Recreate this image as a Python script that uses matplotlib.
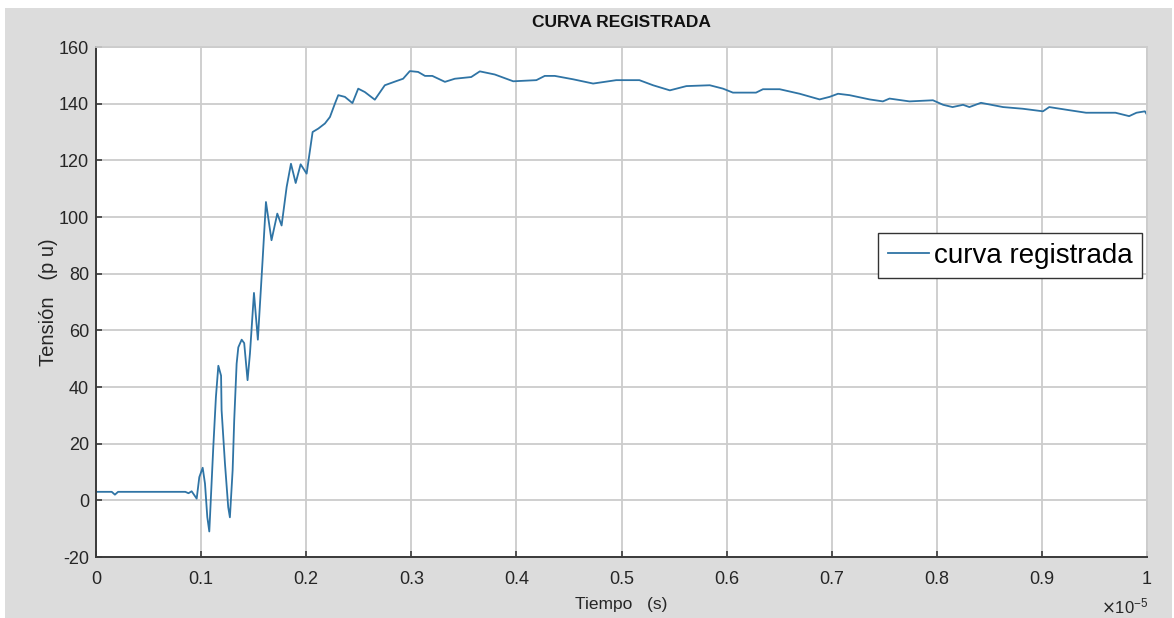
import matplotlib
matplotlib.use("Agg")
import matplotlib.pyplot as plt
from matplotlib.patches import Rectangle

plt.rcParams['font.family'] = ['Liberation Sans', 'DejaVu Sans']
plt.rcParams['axes.unicode_minus'] = False

# Time (x 1e-5 s) and voltage (p.u.)
t = [0.0, 0.015, 0.018, 0.021, 0.085, 0.088, 0.091, 0.0958, 0.0983, 0.1015,
     0.1037, 0.1059, 0.1078, 0.1116, 0.1141, 0.1164, 0.119, 0.1195, 0.1227,
     0.1258, 0.1274, 0.13, 0.1315, 0.1338, 0.1354, 0.1386, 0.141, 0.1442,
     0.1465, 0.1503, 0.154, 0.1585, 0.1617, 0.167, 0.1725, 0.1766, 0.1814,
     0.1855, 0.19, 0.1947, 0.2004, 0.2061, 0.2115, 0.2178, 0.2226, 0.2273,
     0.2305, 0.2368, 0.244, 0.2495, 0.2558, 0.2653, 0.2748, 0.286, 0.2922,
     0.2986, 0.3065, 0.313, 0.320, 0.332, 0.3414, 0.357, 0.3652, 0.3794,
     0.397, 0.419, 0.427, 0.4365, 0.454, 0.473, 0.495, 0.517, 0.53, 0.546,
     0.5617, 0.584, 0.5966, 0.606, 0.628, 0.6346, 0.6505, 0.6695, 0.6885,
     0.698, 0.706, 0.717, 0.736, 0.7487, 0.755, 0.774, 0.7963, 0.806, 0.815,
     0.825, 0.831, 0.842, 0.863, 0.882, 0.901, 0.907, 0.926, 0.942, 0.97,
     0.983, 0.99, 0.998, 1.0]
v = [3.0, 3.0, 2.0, 3.0, 3.0, 2.5, 3.2, 0.6, 8.2, 11.5,
     5.9, -5.9, -11.0, 18.8, 36.5, 47.5, 44.0, 31.8, 13.0,
     -2.4, -6.0, 10.6, 28.2, 48.2, 54.0, 56.7, 55.5, 42.4,
     51.9, 73.2, 56.7, 84.7, 105.3, 91.8, 101.2, 97.0, 110.6,
     118.8, 112.0, 118.6, 115.3, 130.0, 131.2, 133.0, 135.3, 140.0,
     143.0, 142.4, 140.2, 145.3, 144.1, 141.4, 146.5, 148.0, 148.8,
     151.5, 151.2, 149.8, 149.8, 147.7, 148.8, 149.4, 151.4, 150.3,
     147.9, 148.3, 149.8, 149.8, 148.6, 147.1, 148.3, 148.3, 146.5, 144.7,
     146.2, 146.5, 145.3, 143.9, 143.9, 145.1, 145.1, 143.5, 141.5,
     142.4, 143.5, 143.0, 141.5, 140.8, 141.8, 140.8, 141.2, 139.6, 138.8,
     139.6, 138.8, 140.3, 138.8, 138.2, 137.3, 138.8, 137.7, 136.8, 136.8,
     135.6, 136.8, 137.3, 136.1]

xticks = [0, 0.1, 0.2, 0.3, 0.4, 0.5, 0.6, 0.7, 0.8, 0.9, 1.0]
xticklabels = ['0', '0.1', '0.2', '0.3', '0.4', '0.5', '0.6', '0.7', '0.8', '0.9', '1']
yticks = [-20, 0, 20, 40, 60, 80, 100, 120, 140, 160]

W, H = 1174, 618
fig = plt.figure(figsize=(W / 100, H / 100), dpi=100, facecolor='white')
fig.patches.append(Rectangle((5 / W, 0), (1172 - 5) / W, (H - 8) / H,
                             transform=fig.transFigure, facecolor='#dcdcdc',
                             edgecolor='none', zorder=-10))

ax = fig.add_axes([96 / W, 1 - 557 / H, (1147 - 96) / W, (557 - 47) / H])
ax.set_facecolor('white')
ax.plot(t, v, color='#2f74a5', linewidth=1.3, label='curva registrada')

ax.set_xlim(0, 1)
ax.set_ylim(-20, 160)
ax.set_xticks(xticks)
ax.set_xticklabels(xticklabels)
ax.set_yticks(yticks)
ax.grid(True, color='#cccccc', linewidth=1.3)
ax.set_axisbelow(True)
for s in ['top', 'right']:
    ax.spines[s].set_color('#cccccc')
    ax.spines[s].set_linewidth(1.3)
for s in ['left', 'bottom']:
    ax.spines[s].set_color('#3a3a3a')
    ax.spines[s].set_linewidth(1.4)
ax.tick_params(axis='both', direction='in', length=4, width=1.2,
               color='#3a3a3a', labelsize=13, labelcolor='#262626')
ax.tick_params(axis='x', pad=10)
ax.tick_params(axis='y', pad=5)

ax.set_title('CURVA REGISTRADA', fontsize=12.5, fontweight='bold',
             color='#111111', y=(557 - 31) / 510, va='center')
ax.set_xlabel('Tiempo   (s)', fontsize=12.5, color='#262626', va='center')
ax.xaxis.set_label_coords(0.5, (557 - 605) / 510)
ax.set_ylabel('Tensión   (p u)', fontsize=14.5, color='#262626', va='center')
ax.yaxis.set_label_coords((48 - 96) / 1051, 0.5)

fig.text(1125 / W, 1 - 606 / H, r'$\times\mathregular{10^{-5}}$',
         fontsize=12, color='#262626', ha='center', va='center')

leg = ax.legend(loc='upper right', bbox_to_anchor=((1142 - 96) / 1051, (557 - 233) / 510),
                borderaxespad=0, fancybox=False, framealpha=1, edgecolor='#333333',
                prop={'family': ['Liberation Sans', 'DejaVu Sans'], 'size': 20},
                borderpad=0.35, handlelength=1.5, handletextpad=0.15)
leg.get_frame().set_linewidth(1.0)

fig.savefig('out.png', dpi=100, facecolor=fig.get_facecolor())
